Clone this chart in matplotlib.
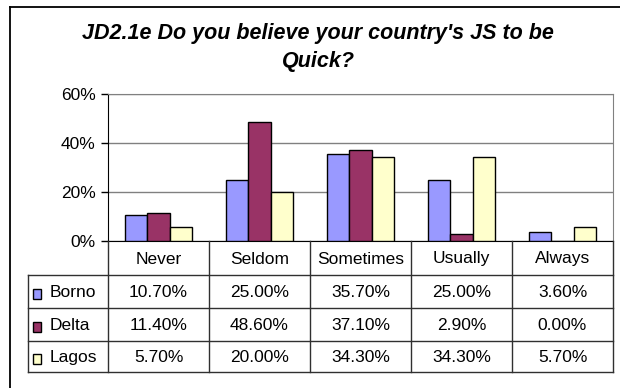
import numpy as np
import matplotlib
matplotlib.use('Agg')
import matplotlib.pyplot as plt
from matplotlib.patches import Rectangle

plt.rcParams['font.family'] = ['Liberation Sans', 'DejaVu Sans']

categories = ['Never', 'Seldom', 'Sometimes', 'Usually', 'Always']
series = ['Borno', 'Delta', 'Lagos']
borno = [10.7, 25.0, 35.7, 25.0, 3.6]
delta = [11.4, 48.6, 37.1, 2.9, 0.0]
lagos = [5.7, 20.0, 34.3, 34.3, 5.7]
colors = ['#9999FF', '#993366', '#FFFFCC']
title_lines = ["JD2.1e Do you believe your country's JS to be", "Quick?"]
yticks = [0, 20, 40, 60]

data = [borno, delta, lagos]

W, H = 620, 388
fig = plt.figure(figsize=(W / 100, H / 100), dpi=100)

# plot area in pixel coords
px_l, px_r, px_t, px_b = 108, 613, 94, 241
ax = fig.add_axes([px_l / W, 1 - px_b / H, (px_r - px_l) / W, (px_b - px_t) / H])

x = np.arange(len(categories))
w = 1 / 4.5
for i, (vals, c) in enumerate(zip(data, colors)):
    ax.bar(x + (i - 1) * w, vals, w, color=c, edgecolor='black', linewidth=1, zorder=3)

ax.set_xlim(-0.5, len(categories) - 0.5)
ax.set_ylim(0, 60)
ax.set_yticks(yticks)
ax.set_yticklabels(['%d%%' % t for t in yticks])
ax.set_xticks([])
ax.yaxis.grid(True, color='#808080', linewidth=1)
ax.set_axisbelow(True)
ax.spines['left'].set_color('black')
ax.spines['bottom'].set_color('black')
ax.spines['top'].set_color('#808080')
ax.spines['right'].set_color('#808080')
ax.tick_params(axis='y', length=5, width=1, pad=4, labelsize=12.5, direction='out')

# canvas for title, frame, data table
cv = fig.add_axes([0, 0, 1, 1])
cv.set_xlim(0, W)
cv.set_ylim(H, 0)
cv.axis('off')
cv.patch.set_visible(False)

cv.plot([10, W], [7, 7], color='black', lw=1.3)
cv.plot([10, 10], [7, H], color='black', lw=1.3)

cv.text(318, 34, title_lines[0], ha='center', va='center', fontsize=15.5,
        weight='bold', style='italic')
cv.text(318, 61, title_lines[1], ha='center', va='center', fontsize=15.5,
        weight='bold', style='italic')

col_w = (px_r - px_l) / len(categories)
col_edges = px_l + col_w * np.arange(len(categories) + 1)
row_edges = [241, 275, 308, 341, 372]
tab_left = 28
lc = '#303030'

for y in row_edges[1:]:
    cv.plot([tab_left, px_r], [y, y], color=lc, lw=1)
for xe in col_edges:
    cv.plot([xe, xe], [row_edges[0], row_edges[-1]], color=lc, lw=1)
cv.plot([tab_left, tab_left], [row_edges[1], row_edges[-1]], color=lc, lw=1)

centers = (col_edges[:-1] + col_edges[1:]) / 2
for cx, cat in zip(centers, categories):
    cv.text(cx, (row_edges[0] + row_edges[1]) / 2 + 1, cat, ha='center', va='center', fontsize=12.5)

for r, (name, vals, c) in enumerate(zip(series, data, colors)):
    cy = (row_edges[r + 1] + row_edges[r + 2]) / 2 + 1
    cv.add_patch(Rectangle((33, cy - 4), 8, 10, facecolor=c, edgecolor='black', lw=1))
    cv.text(50, cy, name, ha='left', va='center', fontsize=12.5)
    for cx, v in zip(centers, vals):
        cv.text(cx, cy, '%.2f%%' % v, ha='center', va='center', fontsize=12.5)

fig.savefig('out.png', dpi=100)
